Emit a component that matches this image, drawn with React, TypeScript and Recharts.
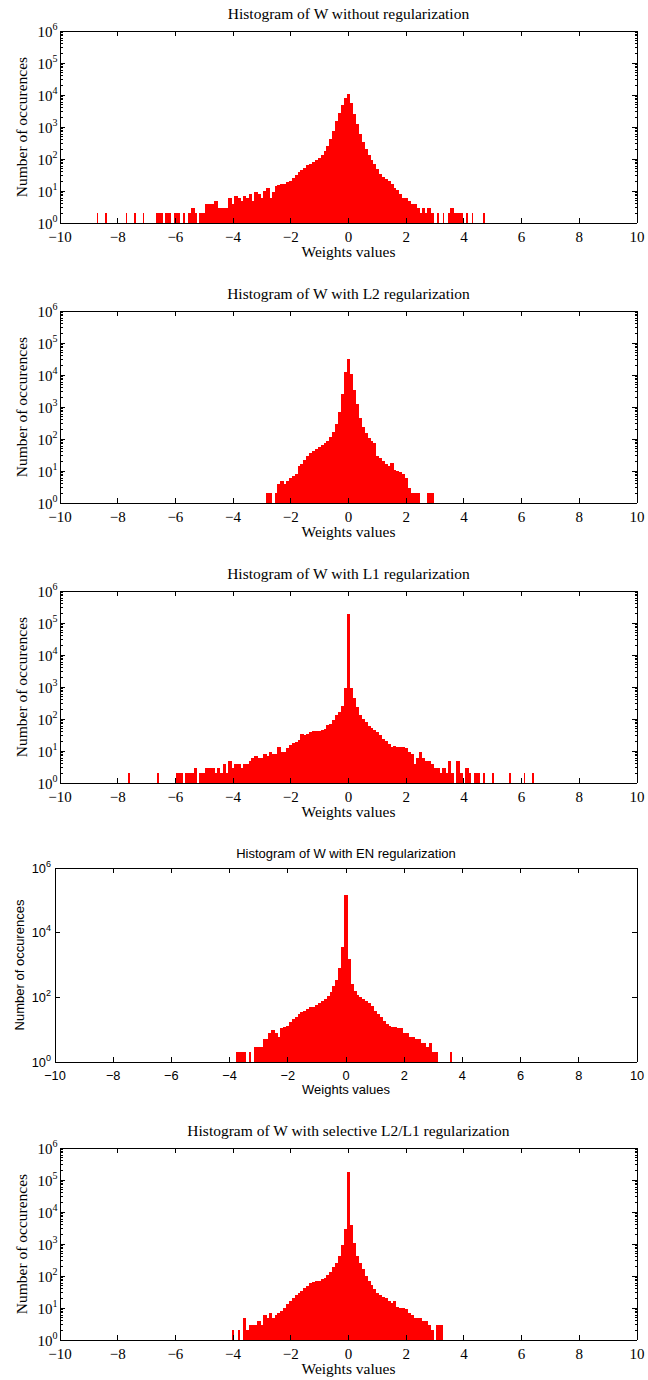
import React from 'react';
import { BarChart, Bar, XAxis, YAxis, ReferenceLine } from 'recharts';

// histogram bins are 0.1 wide; each series lists counts from its first bin
const BIN_WIDTH = 0.1;
const X_TICKS = [-10, -8, -6, -4, -2, 0, 2, 4, 6, 8, 10];
const Y_DECADES = [1, 10, 100, 1000, 10000, 100000, 1000000];
const Y_DECADES_EN = [1, 100, 10000, 1000000];
const Y_MINOR_STEPS = [2, 3, 4, 5, 6, 7, 8, 9];

const X_LABEL = 'Weights values';
const Y_LABEL = 'Number of occurences';

const TITLES = [
  'Histogram of W without regularization',
  'Histogram of W with L2 regularization',
  'Histogram of W with L1 regularization',
  'Histogram of W with EN regularization',
  'Histogram of W with selective L2/L1 regularization',
];

const noRegStart = -8.7;
const noRegCounts = [
  2, 0, 0, 2, 0, 0, 0, 0,
  0, 0, 2, 0, 0, 2, 0, 0, 2, 0,
  0, 0, 0, 2, 2, 0, 2, 2, 0, 2,
  2, 0, 2, 0, 2, 3, 2, 0, 2, 2,
  4, 4, 4, 5, 3, 3, 3, 3, 6, 4,
  7, 6, 5, 7, 6, 8, 5, 9, 8, 6,
  10, 12, 6, 9, 14, 15, 16, 17, 19, 21,
  25, 32, 38, 45, 51, 63, 70, 80, 92, 105,
  130, 180, 260, 420, 760, 1500, 2800, 5000, 8200, 10500,
  5800, 2600, 1200, 620, 350, 210, 135, 90, 68, 48,
  35, 28, 24, 20, 16, 12, 11, 8, 6, 6,
  5, 4, 4, 3, 2, 3, 2, 3, 2, 0,
  2, 0, 2, 0, 2, 3, 2, 2, 2, 0,
  2, 0, 2, 0, 0, 0, 2,
];

const l2Start = -2.9;
const l2Counts = [
  0, 2, 2, 0, 2, 4, 5, 4, 5, 6,
  7, 8, 14, 17, 22, 30, 37, 43, 50, 58,
  65, 75, 88, 115, 170, 300, 700, 2500, 12000, 32000,
  11000, 3500, 1200, 440, 230, 150, 110, 85, 75, 30,
  25, 20, 17, 14, 18, 11, 10, 9, 8, 6,
  3, 2, 2, 2, 0, 0, 0, 2, 2,
];

const l1Start = -7.6;
const l1Counts = [
  2, 0, 0, 0, 0, 0, 0,
  0, 0, 0, 2, 0, 0, 0, 0, 0, 0,
  2, 2, 0, 2, 2, 2, 3, 0, 2, 2,
  3, 3, 3, 2, 3, 2, 4, 2, 5, 3,
  4, 4, 3, 4, 4, 5, 6, 7, 6, 6,
  8, 7, 9, 8, 8, 13, 9, 9, 12, 15,
  18, 19, 22, 33, 31, 33, 38, 42, 42, 42,
  45, 50, 63, 71, 95, 130, 160, 260, 900, 185000,
  900, 450, 240, 130, 100, 82, 62, 53, 45, 38,
  31, 24, 20, 16, 13, 14, 13, 13, 13, 12,
  9, 8, 4, 6, 9, 6, 5, 5, 4, 3,
  3, 2, 3, 2, 5, 2, 0, 5, 2, 0,
  3, 2, 0, 2, 2, 0, 2, 0, 0, 2,
  0, 0, 0, 0, 0, 2, 0, 0, 0, 0,
  2, 0, 0, 2,
];

const enStart = -3.7;
const enCounts = [
  2, 2, 2, 0, 2, 0, 3, 3,
  3, 5, 5, 8, 10, 8, 6, 11, 12, 13,
  17, 22, 25, 30, 35, 38, 45, 50, 52, 58,
  65, 75, 92, 110, 150, 220, 350, 800, 3500, 150000,
  1500, 250, 160, 120, 100, 90, 78, 65, 55, 38,
  30, 24, 18, 15, 13, 12, 12, 11, 11, 8,
  8, 6, 6, 5, 5, 4, 4, 3, 4, 2,
  2, 0, 0, 0, 0, 2,
];

const selStart = -4.0;
const selCounts = [
  2, 0, 2, 0, 5, 2, 3, 3, 3, 4,
  3, 6, 5, 7, 5, 6, 7, 8, 10, 13,
  17, 20, 25, 30, 35, 42, 50, 59, 65, 69,
  72, 78, 88, 105, 135, 185, 260, 420, 900, 3000,
  178000,
  4000, 1100, 430, 260, 170, 100, 70, 52, 40, 30,
  26, 22, 20, 17, 14, 16, 11, 10, 10, 9,
  7, 6, 5, 5, 5, 4, 4, 3, 2, 0,
  3, 3,
];

const SERIF = '"Liberation Serif", "Times New Roman", serif';
const SANS = '"Liberation Sans", Arial, Helvetica, sans-serif';

const CHART_W = 648;
const PLOT_RIGHT = 637;
const PAD_TOP = 20;
const AXIS_H = 45;

const serifText = { font: SERIF, size: 15.5, tickSize: 15, sup: 10, supDy: -7, yTickDy: 5.5, titleDy: -12, tickDy: 18.5, labelDy: 34, yLabelX: 21, labelGap: 2.5 };
const sansText = { font: SANS, size: 13, tickSize: 12.8, sup: 9, supDy: -6, yTickDy: 4.5, titleDy: -10.5, tickDy: 17.5, labelDy: 32, yLabelX: 19, labelGap: 4 };

const panels = [
  { title: TITLES[0], start: noRegStart, counts: noRegCounts, decades: Y_DECADES, minor: true, top: 31, height: 192, left: 60, ...serifText },
  { title: TITLES[1], start: l2Start, counts: l2Counts, decades: Y_DECADES, minor: true, top: 311, height: 192, left: 60, ...serifText },
  { title: TITLES[2], start: l1Start, counts: l1Counts, decades: Y_DECADES, minor: true, top: 591, height: 192, left: 60, ...serifText },
  { title: TITLES[3], start: enStart, counts: enCounts, decades: Y_DECADES_EN, minor: false, top: 868, height: 194, left: 55, ...sansText },
  { title: TITLES[4], start: selStart, counts: selCounts, decades: Y_DECADES, minor: true, top: 1148, height: 192, left: 60, ...serifText },
];

type Panel = (typeof panels)[number];

// a bar with no filled neighbour is drawn as a thin spike, like the original fine bins
const toRows = (start: number, counts: number[]) =>
  counts.map((c, i) => ({
    w: Math.round((start + i * BIN_WIDTH) * 10) / 10,
    n: c > 0 ? c : null,
    lone: !(counts[i - 1] > 0) && !(counts[i + 1] > 0),
  }));

const yTicksFor = (p: Panel) => {
  if (!p.minor) return p.decades;
  const out: number[] = [];
  p.decades.forEach((d, i) => {
    out.push(d);
    if (i < p.decades.length - 1) Y_MINOR_STEPS.forEach((m) => out.push(d * m));
  });
  return out;
};

const XTick = ({ x, y, payload, p }: any) => {
  const v = payload.value;
  const label = v < 0 ? `\u2212${-v}` : `${v}`;
  return (
    <g>
      <line x1={x} x2={x} y1={y} y2={y - 5} stroke="#000" shapeRendering="crispEdges" />
      <line x1={x} x2={x} y1={y - p.height} y2={y - p.height + 5} stroke="#000" shapeRendering="crispEdges" />
      <text x={x} y={y + p.tickDy} textAnchor="middle" fontFamily={p.font} fontSize={p.tickSize} fill="#000">
        {label}
      </text>
    </g>
  );
};

const YTick = ({ x, y, payload, p }: any) => {
  const v = payload.value;
  const major = p.decades.includes(v);
  const len = major ? 5 : 2.5;
  const plotW = PLOT_RIGHT - p.left;
  return (
    <g>
      <line x1={x} x2={x + len} y1={y} y2={y} stroke="#000" shapeRendering="crispEdges" />
      <line x1={x + plotW} x2={x + plotW - len} y1={y} y2={y} stroke="#000" shapeRendering="crispEdges" />
      {major && (
        <text x={x - p.labelGap} y={y + p.yTickDy} textAnchor="end" fontFamily={p.font} fontSize={p.tickSize} fill="#000">
          10
          <tspan dy={p.supDy} fontSize={p.sup}>
            {Math.round(Math.log10(v))}
          </tspan>
        </text>
      )}
    </g>
  );
};

const HistBar = ({ x, y, width, height, payload, binPx }: any) => {
  if (!height || height <= 0) return null;
  const cx = x + width / 2;
  const w = payload && payload.lone ? 1.6 : binPx + 0.8;
  return <rect x={cx - w / 2} y={y} width={w} height={height} fill="#ff0000" shapeRendering="crispEdges" />;
};

function HistPanel({ p }: { p: Panel }) {
  const rows = toRows(p.start, p.counts);
  const chartH = PAD_TOP + p.height + AXIS_H;
  const binPx = (BIN_WIDTH * (PLOT_RIGHT - p.left)) / 20;
  const frame = { stroke: '#000', shapeRendering: 'crispEdges' } as any;
  return (
    <div style={{ position: 'absolute', left: 0, top: p.top - PAD_TOP, width: CHART_W, height: chartH }}>
      <BarChart
        width={CHART_W}
        height={chartH}
        data={rows}
        margin={{ top: PAD_TOP, right: CHART_W - PLOT_RIGHT, bottom: 0, left: 0 }}
        barCategoryGap={0}
      >
        <Bar
          dataKey="n"
          fill="#ff0000"
          barSize={binPx - 0.05}
          isAnimationActive={false}
          shape={(props: any) => <HistBar {...props} binPx={binPx} />}
        />
        <XAxis
          type="number"
          dataKey="w"
          domain={[-10, 10]}
          ticks={X_TICKS}
          interval={0}
          height={AXIS_H}
          tickSize={0}
          tickMargin={0}
          tickLine={false}
          axisLine={frame}
          tick={(props: any) => <XTick {...props} p={p} />}
        />
        <YAxis
          scale="log"
          domain={[1, 1000000]}
          ticks={yTicksFor(p)}
          interval={0}
          width={p.left}
          tickSize={0}
          tickMargin={0}
          tickLine={false}
          axisLine={frame}
          allowDataOverflow
          tick={(props: any) => <YTick {...props} p={p} />}
        />
        <ReferenceLine y={1000000} {...frame} />
        <ReferenceLine x={10} {...frame} />
      </BarChart>
      <svg
        width={CHART_W}
        height={chartH}
        style={{ position: 'absolute', left: 0, top: 0, pointerEvents: 'none', overflow: 'visible' }}
      >
        <text
          x={(p.left + PLOT_RIGHT) / 2}
          y={PAD_TOP + p.titleDy}
          textAnchor="middle"
          fontFamily={p.font}
          fontSize={p.size}
          fill="#000"
        >
          {p.title}
        </text>
        <text
          x={(p.left + PLOT_RIGHT) / 2}
          y={PAD_TOP + p.height + p.labelDy}
          textAnchor="middle"
          fontFamily={p.font}
          fontSize={p.size}
          fill="#000"
        >
          {X_LABEL}
        </text>
        <text
          transform={`translate(${p.yLabelX}, ${PAD_TOP + p.height / 2}) rotate(-90)`}
          textAnchor="middle"
          dominantBaseline="central"
          fontFamily={p.font}
          fontSize={p.size}
          fill="#000"
        >
          {Y_LABEL}
        </text>
      </svg>
    </div>
  );
}

export default function App() {
  return (
    <div style={{ position: 'absolute', left: 0, top: 0, width: CHART_W, height: 1380, background: '#fff' }}>
      {panels.map((p) => (
        <HistPanel key={p.title} p={p} />
      ))}
    </div>
  );
}
